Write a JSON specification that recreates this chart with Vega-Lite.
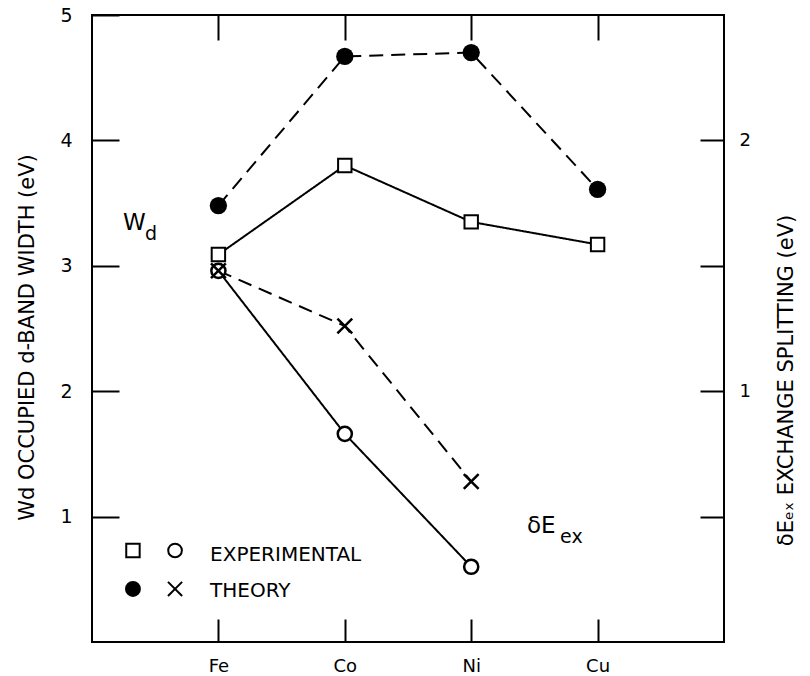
{
  "$schema": "https://vega.github.io/schema/vega-lite/v6.json",
  "width": 632,
  "height": 627,
  "autosize": {"type": "none"},
  "padding": {"left": 92, "top": 15, "right": 86, "bottom": 34},
  "background": "white",
  "config": {
    "view": {"stroke": "black", "strokeWidth": 2},
    "font": "DejaVu Sans",
    "axis": {
      "domain": false,
      "grid": false,
      "tickColor": "black",
      "tickWidth": 2,
      "labelColor": "black",
      "titleColor": "black",
      "labelFont": "DejaVu Sans",
      "titleFont": "DejaVu Sans",
      "titleFontWeight": "normal"
    }
  },
  "datasets": {
    "measurements": [
      {"metal": "Fe", "z": 26, "quantity": "Wd", "source": "experimental", "value": 3.09},
      {"metal": "Co", "z": 27, "quantity": "Wd", "source": "experimental", "value": 3.80},
      {"metal": "Ni", "z": 28, "quantity": "Wd", "source": "experimental", "value": 3.35},
      {"metal": "Cu", "z": 29, "quantity": "Wd", "source": "experimental", "value": 3.17},
      {"metal": "Fe", "z": 26, "quantity": "Wd", "source": "theory", "value": 3.48},
      {"metal": "Co", "z": 27, "quantity": "Wd", "source": "theory", "value": 4.67},
      {"metal": "Ni", "z": 28, "quantity": "Wd", "source": "theory", "value": 4.70},
      {"metal": "Cu", "z": 29, "quantity": "Wd", "source": "theory", "value": 3.61},
      {"metal": "Fe", "z": 26, "quantity": "dEex", "source": "experimental", "value": 1.48},
      {"metal": "Co", "z": 27, "quantity": "dEex", "source": "experimental", "value": 0.83},
      {"metal": "Ni", "z": 28, "quantity": "dEex", "source": "experimental", "value": 0.30},
      {"metal": "Fe", "z": 26, "quantity": "dEex", "source": "theory", "value": 1.48},
      {"metal": "Co", "z": 27, "quantity": "dEex", "source": "theory", "value": 1.26},
      {"metal": "Ni", "z": 28, "quantity": "dEex", "source": "theory", "value": 0.64}
    ],
    "annotations": [
      {"text": "W", "role": "variable", "z": 25.245, "value": 3.285},
      {"text": "d", "role": "subscript", "z": 25.42, "value": 3.206},
      {"text": "δE", "role": "variable", "z": 28.441, "value": 0.869},
      {"text": "ex", "role": "subscript", "z": 28.703, "value": 0.789},
      {"text": "EXPERIMENTAL", "role": "key", "z": 25.934, "value": 0.646},
      {"text": "THEORY", "role": "key", "z": 25.934, "value": 0.359}
    ],
    "key": [
      {"series": "Wd experimental", "z": 25.324, "value": 0.730},
      {"series": "dEex experimental", "z": 25.657, "value": 0.730},
      {"series": "Wd theory", "z": 25.324, "value": 0.423},
      {"series": "dEex theory", "z": 25.657, "value": 0.423}
    ]
  },
  "layer": [
    {
      "encoding": {
        "x": {
          "field": "z",
          "type": "quantitative",
          "scale": {"domain": [25, 30]},
          "axis": {
            "orient": "bottom",
            "values": [26, 27, 28, 29],
            "labelExpr": "datum.value == 26 ? 'Fe' : datum.value == 27 ? 'Co' : datum.value == 28 ? 'Ni' : 'Cu'",
            "tickSize": -23,
            "labelPadding": 38,
            "labelFontSize": 18,
            "title": null
          }
        },
        "y": {
          "field": "value",
          "type": "quantitative",
          "scale": {"domain": [0, 5]},
          "axis": {
            "orient": "left",
            "values": [1, 2, 3, 4, 5],
            "tickSize": -27,
            "labelPadding": 47,
            "labelFontSize": 19,
            "title": "Wd OCCUPIED d-BAND WIDTH (eV)",
            "titleFontSize": 21,
            "titlePadding": 22,
            "titleY": 322
          }
        }
      },
      "layer": [
        {
          "data": {"name": "measurements"},
          "transform": [{"filter": "datum.quantity == 'Wd'"}],
          "mark": {"type": "line", "color": "black", "strokeWidth": 2},
          "encoding": {
            "strokeDash": {
              "field": "source",
              "type": "nominal",
              "scale": {"domain": ["experimental", "theory"], "range": [[1, 0], [14, 8]]},
              "legend": null
            }
          }
        },
        {
          "data": {"name": "measurements"},
          "transform": [{"filter": "datum.quantity == 'Wd' && datum.source == 'experimental'"}],
          "mark": {"type": "point", "shape": "square", "filled": true, "fill": "white", "stroke": "black", "strokeWidth": 2, "size": 180, "opacity": 1}
        },
        {
          "data": {"name": "measurements"},
          "transform": [{"filter": "datum.quantity == 'Wd' && datum.source == 'theory'"}],
          "mark": {"type": "point", "shape": "circle", "filled": true, "color": "black", "size": 300, "opacity": 1}
        },
        {
          "data": {"name": "key"},
          "mark": {"type": "point", "filled": true, "stroke": "black", "strokeWidth": 2, "opacity": 1},
          "encoding": {
            "shape": {
              "field": "series",
              "type": "nominal",
              "scale": {
                "domain": ["Wd experimental", "dEex experimental", "Wd theory", "dEex theory"],
                "range": ["square", "circle", "circle", "M-1,-1L1,1M-1,1L1,-1"]
              },
              "legend": null
            },
            "fill": {
              "field": "series",
              "type": "nominal",
              "scale": {
                "domain": ["Wd experimental", "dEex experimental", "Wd theory", "dEex theory"],
                "range": ["white", "white", "black", "black"]
              },
              "legend": null
            },
            "size": {
              "field": "series",
              "type": "nominal",
              "scale": {
                "domain": ["Wd experimental", "dEex experimental", "Wd theory", "dEex theory"],
                "range": [180, 200, 300, 200]
              },
              "legend": null
            }
          }
        },
        {
          "data": {"name": "annotations"},
          "transform": [{"filter": "datum.role == 'variable'"}],
          "mark": {"type": "text", "align": "left", "baseline": "alphabetic", "color": "black", "fontSize": 23},
          "encoding": {"text": {"field": "text"}}
        },
        {
          "data": {"name": "annotations"},
          "transform": [{"filter": "datum.role == 'subscript'"}],
          "mark": {"type": "text", "align": "left", "baseline": "alphabetic", "color": "black", "fontSize": 19},
          "encoding": {"text": {"field": "text"}}
        },
        {
          "data": {"name": "annotations"},
          "transform": [{"filter": "datum.role == 'key'"}],
          "mark": {"type": "text", "align": "left", "baseline": "alphabetic", "color": "black", "fontSize": 20},
          "encoding": {"text": {"field": "text"}}
        }
      ]
    },
    {
      "data": {"name": "measurements"},
      "transform": [{"filter": "datum.quantity == 'dEex'"}],
      "encoding": {
        "x": {
          "field": "z",
          "type": "quantitative",
          "scale": {"domain": [25, 30]},
          "axis": {
            "orient": "top",
            "values": [26, 27, 28, 29],
            "labels": false,
            "tickSize": -25,
            "title": null
          }
        },
        "y": {
          "field": "value",
          "type": "quantitative",
          "scale": {"domain": [0, 2.5]},
          "axis": {
            "orient": "right",
            "values": [0.5, 1, 1.5, 2],
            "labelExpr": "datum.value == 1 ? '1' : datum.value == 2 ? '2' : ''",
            "tickSize": -24,
            "labelPadding": 39,
            "labelFontSize": 18,
            "title": "δEₑₓ EXCHANGE SPLITTING (eV)",
            "titleFontSize": 21,
            "titleAngle": 270,
            "titlePadding": 46,
            "titleY": 365
          }
        }
      },
      "layer": [
        {
          "mark": {"type": "line", "color": "black", "strokeWidth": 2},
          "encoding": {
            "strokeDash": {
              "field": "source",
              "type": "nominal",
              "scale": {"domain": ["experimental", "theory"], "range": [[1, 0], [14, 8]]},
              "legend": null
            }
          }
        },
        {
          "transform": [{"filter": "datum.source == 'experimental'"}],
          "mark": {"type": "point", "shape": "circle", "filled": true, "fill": "white", "stroke": "black", "strokeWidth": 2.5, "size": 200, "opacity": 1}
        },
        {
          "transform": [{"filter": "datum.source == 'theory'"}],
          "mark": {"type": "point", "shape": "M-1,-1L1,1M-1,1L1,-1", "filled": false, "stroke": "black", "strokeWidth": 2.5, "size": 220, "opacity": 1}
        }
      ]
    }
  ],
  "resolve": {
    "scale": {"y": "independent", "shape": "independent", "size": "independent", "fill": "independent"},
    "axis": {"x": "independent", "y": "independent"}
  }
}
